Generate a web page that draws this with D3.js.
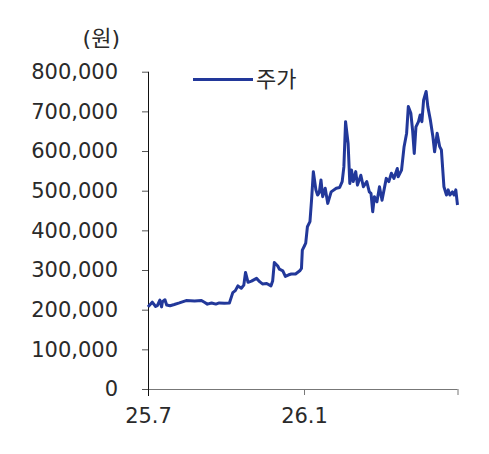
<!DOCTYPE html>
<html>
<head>
<meta charset="utf-8">
<script src="https://cdn.jsdelivr.net/npm/d3@7"></script>
<style>
  body { margin: 0; background: #fff; }
  svg text { font-family: "DejaVu Sans", "Noto Sans CJK KR", sans-serif; fill: #2a2a2a; }
</style>
</head>
<body>
<svg id="chart" width="489" height="454"></svg>
<script>
// daily price (won)
const dates = [
  "2025-07-01","2025-07-03","2025-07-06","2025-07-10","2025-07-12","2025-07-15","2025-07-17","2025-07-18",
  "2025-07-21","2025-07-23","2025-07-27","2025-08-01","2025-08-07","2025-08-15","2025-08-25","2025-09-02",
  "2025-09-06","2025-09-09","2025-09-14","2025-09-19","2025-09-23","2025-09-29","2025-10-05","2025-10-09",
  "2025-10-12","2025-10-15","2025-10-19","2025-10-22","2025-10-24","2025-10-27","2025-10-31","2025-11-06",
  "2025-11-10","2025-11-13","2025-11-18","2025-11-23","2025-11-25","2025-11-27","2025-12-01","2025-12-03",
  "2025-12-07","2025-12-10","2025-12-14","2025-12-17","2025-12-22","2025-12-27","2025-12-29","2025-12-30",
  "2026-01-02","2026-01-03","2026-01-05","2026-01-08","2026-01-10","2026-01-12","2026-01-15","2026-01-17",
  "2026-01-19","2026-01-21","2026-01-23","2026-01-26","2026-01-29","2026-02-02","2026-02-08","2026-02-12",
  "2026-02-15","2026-02-17","2026-02-19","2026-02-22","2026-02-24","2026-02-26","2026-02-28","2026-03-03",
  "2026-03-05","2026-03-09","2026-03-12","2026-03-16","2026-03-19","2026-03-21","2026-03-23","2026-03-25",
  "2026-03-28","2026-03-31","2026-04-03","2026-04-08","2026-04-11","2026-04-14","2026-04-17","2026-04-21",
  "2026-04-22","2026-04-26","2026-04-29","2026-05-02","2026-05-04","2026-05-07","2026-05-09","2026-05-11",
  "2026-05-13","2026-05-16","2026-05-18","2026-05-20","2026-05-22","2026-05-25","2026-05-27","2026-05-30",
  "2026-06-02","2026-06-04","2026-06-07","2026-06-10","2026-06-12","2026-06-15","2026-06-18","2026-06-20",
  "2026-06-22","2026-06-25","2026-06-27","2026-06-29","2026-07-01"
];
const prices = [
  207000,212000,219000,208000,210000,224000,207000,220000,
  225000,212000,210000,213000,217000,223000,222000,223000,
  218000,214000,217000,214000,217000,216000,217000,243000,
  248000,260000,254000,262000,294000,269000,272000,279000,
  270000,265000,266000,260000,272000,319000,310000,302000,
  298000,284000,288000,290000,290000,298000,304000,350000,
  363000,368000,409000,422000,480000,548000,502000,489000,
  495000,527000,485000,506000,468000,497000,506000,508000,
  523000,560000,674000,619000,518000,552000,523000,548000,
  514000,539000,510000,523000,497000,493000,447000,485000,
  472000,510000,476000,531000,523000,544000,531000,556000,
  535000,552000,611000,645000,712000,695000,653000,594000,
  661000,674000,691000,674000,728000,750000,712000,678000,
  636000,598000,645000,611000,603000,510000,489000,502000,
  489000,497000,489000,502000,464000
];
const yTicks = [0, 100000, 200000, 300000, 400000, 500000, 600000, 700000, 800000];
const xTicks = ["2025-07-01", "2026-01-01", "2026-07-01"];
const xTickLabels = ["25.7", "26.1", ""];
const unitLabel = "(원)";
const seriesName = "주가";

const parseDate = d3.timeParse("%Y-%m-%d");
const data = dates.map((d, i) => ({ date: parseDate(d), value: prices[i] }));

const svg = d3.select("#chart");
const plotLeft = 148, plotRight = 457.5, plotTop = 71.7, plotBottom = 389;
const lineColor = "#22389a";

const x = d3.scaleTime()
    .domain([parseDate(xTicks[0]), parseDate(xTicks[xTicks.length - 1])])
    .range([plotLeft, plotRight]);

const y = d3.scaleLinear()
    .domain([0, 800000])
    .range([plotBottom, plotTop]);

// x axis (gray, drawn first so the y axis sits on top)
const xAxis = d3.axisBottom(x)
    .tickValues(xTicks.map(parseDate))
    .tickFormat((d, i) => xTickLabels[i])
    .tickSize(6)
    .tickPadding(13)
    .tickSizeOuter(0);

const gx = svg.append("g")
    .attr("transform", `translate(0,${plotBottom})`)
    .call(xAxis);
gx.select(".domain").attr("stroke", "#777").attr("d", `M${plotLeft - 6},0.5H${plotRight}`);
gx.selectAll(".tick line").attr("stroke", "#777");
gx.selectAll("text").style("font-size", "21px").attr("fill", "#2a2a2a");

// y axis
const yAxis = d3.axisLeft(y)
    .tickValues(yTicks)
    .tickFormat(d3.format(",.0f"))
    .tickSize(6)
    .tickPadding(24)
    .tickSizeOuter(0);

const gy = svg.append("g")
    .attr("transform", `translate(${plotLeft},0)`)
    .call(yAxis);
gy.select(".domain").attr("stroke", "#111").attr("d", `M0.5,${plotTop}V${plotBottom + 7}`);
gy.selectAll(".tick line").attr("stroke", "#555");
gy.selectAll("text").style("font-size", "21px").attr("fill", "#2a2a2a");

// unit label
svg.append("text")
    .attr("x", 120)
    .attr("y", 46)
    .attr("text-anchor", "end")
    .style("font-size", "22px")
    .text(unitLabel);

// price line
const line = d3.line()
    .x(d => x(d.date))
    .y(d => y(d.value));

svg.append("path")
    .datum(data)
    .attr("fill", "none")
    .attr("stroke", lineColor)
    .attr("stroke-width", 3)
    .attr("stroke-linejoin", "round")
    .attr("d", line);

// legend
svg.append("line")
    .attr("x1", 193).attr("x2", 253)
    .attr("y1", 79.5).attr("y2", 79.5)
    .attr("stroke", lineColor)
    .attr("stroke-width", 3);

svg.append("text")
    .attr("x", 256)
    .attr("y", 87)
    .style("font-size", "22px")
    .text(seriesName);
</script>
</body>
</html>
